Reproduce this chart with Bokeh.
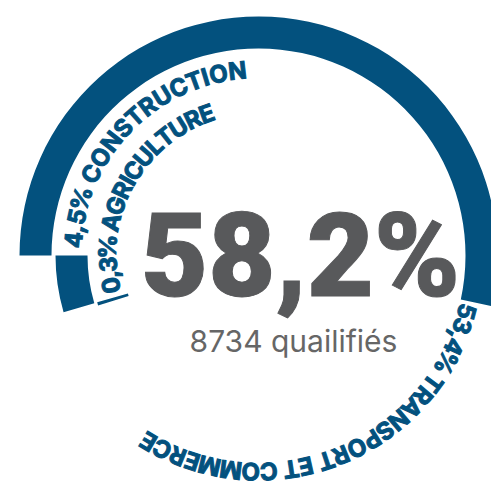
import math
from bokeh.plotting import figure
from bokeh.models import Range1d
from bokeh.core.properties import value
from bokeh.embed import file_html
from bokeh.resources import INLINE

# ---- data ----
categories = ["TRANSPORT ET COMMERCE", "CONSTRUCTION", "AGRICULTURE"]
shares = [53.4, 4.5, 0.3]          # percent of all qualified
headline_share = 58.2
qualified_count = 8734
qualified_word = "quailifiés"

# ---- style / layout ----
BLUE = "#03517e"
GREY = "#58595b"
W, H = 491, 485
CX_PAGE, CY_PAGE = 258, 255         # ring centre within the frame
ring_inner = [207, 171, 136]
ring_width = 32
label_font_px = 24
label_radius_shift = [-7, -1, -1]
label_gap_px = [3, 8, 5]
label_tracking_px = [0.0, 0.75, -0.4]

# approximate advance widths (em) of a bold sans
EM = {'A': .72, 'C': .72, 'E': .60, 'G': .76, 'I': .28, 'L': .56, 'M': .90,
      'N': .76, 'O': .78, 'P': .66, 'R': .68, 'S': .66, 'T': .64, 'U': .74,
      ' ': .26, ',': .28, '%': .86}
for d in "0123456789":
    EM[d] = .64


def fmt(v):
    return f"{v:.1f}".replace(".", ",")


x0 = -CX_PAGE
ytop = CY_PAGE
p = figure(title=None, frame_width=W, frame_height=H,
           x_range=Range1d(x0, x0 + W), y_range=Range1d(ytop - H, ytop),
           output_backend="svg", toolbar_location=None, x_axis_type=None, y_axis_type=None,
           min_border=0, outline_line_color=None, background_fill_color="white",
           border_fill_color="white")
p.grid.visible = False

# stacked rings: each segment continues counter-clockwise where the previous ended
starts, ends = [], []
a = math.pi - math.radians(shares[0] * 3.6)
for s in shares:
    starts.append(a)
    a += math.radians(s * 3.6)
    ends.append(a)

p.annular_wedge(x=0, y=0, inner_radius=ring_inner,
                outer_radius=[r + ring_width for r in ring_inner],
                start_angle=starts, end_angle=ends,
                fill_color=BLUE, line_color=None)

# curved labels, running clockwise from the segment boundary
label_texts = [f"{fmt(s)}% {c}" for s, c in zip(shares, categories)]
label_starts = [starts[0], ends[0], ends[1]]
cx, cy, ct, ca = [], [], [], []
for txt, st, rin, dr, gap, trk in zip(label_texts, label_starts, ring_inner,
                                      label_radius_shift, label_gap_px, label_tracking_px):
    r = rin + ring_width / 2 + dr
    cum = 0.0
    for ch in txt:
        w = EM.get(ch, .66) * label_font_px
        s_pos = gap + cum + w / 2
        th = st - s_pos / r
        cum += w + trk
        if ch == " ":
            continue
        cx.append(r * math.cos(th))
        cy.append(r * math.sin(th))
        ct.append(ch)
        ca.append(th - math.pi / 2)

p.text(x=cx, y=cy, text=ct, angle=ca,
       text_font=value("Inter"), text_font_style="bold",
       text_font_size=f"{label_font_px}px", text_color=BLUE,
       text_outline_color=BLUE,
       text_align="center", text_baseline="middle")

# centre texts
p.text(x=[42], y=[0], text=[f"{fmt(headline_share)}%"],
       text_font=value("'Roboto Black', Roboto"), text_font_style="bold",
       text_font_size="116px", text_color=GREY,
       text_outline_color=GREY,
       text_align="center", text_baseline="middle")
p.text(x=[35], y=[-85], text=[f"{qualified_count} {qualified_word}"],
       text_font=value("Inter"), text_font_size="30px", text_color="#666666",
       text_align="center", text_baseline="middle")

open("out.html", "w").write(file_html(p, INLINE))
